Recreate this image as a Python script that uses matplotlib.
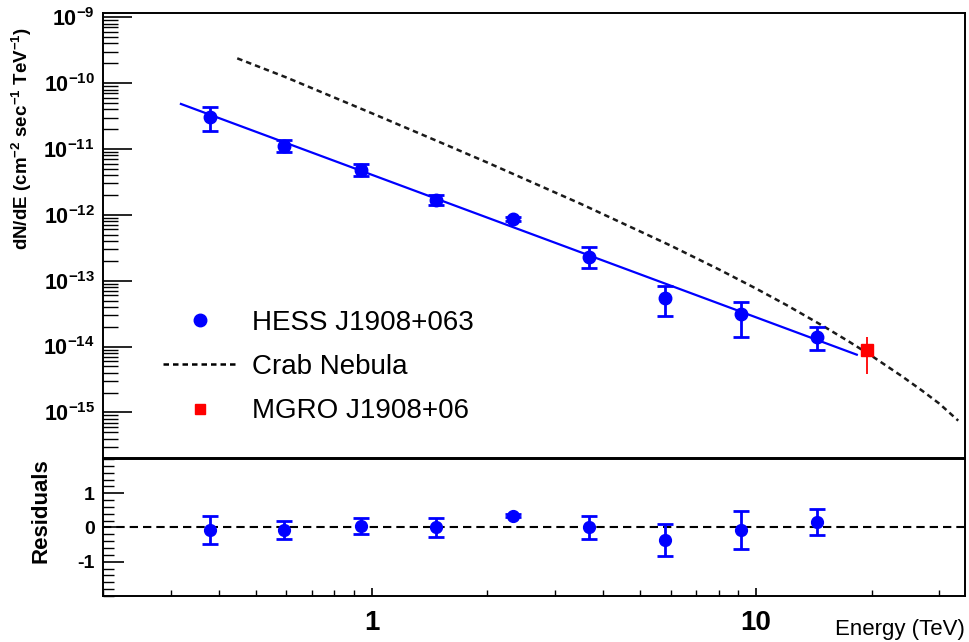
import matplotlib.pyplot as plt
import numpy as np
from matplotlib.lines import Line2D
from matplotlib.ticker import (LogLocator, NullFormatter, FuncFormatter,
                               MultipleLocator, FixedLocator)

plt.rcParams['font.family'] = ['Liberation Sans', 'DejaVu Sans']
plt.rcParams['mathtext.fontset'] = 'custom'
plt.rcParams['mathtext.rm'] = 'Liberation Sans:bold'
plt.rcParams['mathtext.bf'] = 'Liberation Sans:bold'
plt.rcParams['mathtext.it'] = 'Liberation Sans:bold'
plt.rcParams['mathtext.default'] = 'rm'

# HESS J1908+063 spectral points (TeV, cm^-2 s^-1 TeV^-1)
hess_energy = [0.379, 0.593, 0.936, 1.474, 2.33, 3.68, 5.79, 9.14, 14.4]
hess_flux = [3.04e-11, 1.114e-11, 4.82e-12, 1.69e-12, 8.61e-13,
             2.33e-13, 5.44e-14, 3.11e-14, 1.39e-14]
hess_flux_hi = [4.40e-11, 1.37e-11, 5.94e-12, 2.01e-12, 9.2e-13,
                3.30e-13, 8.17e-14, 4.83e-14, 1.95e-14]
hess_flux_lo = [1.90e-11, 9.0e-12, 3.91e-12, 1.42e-12, 8.05e-13,
                1.585e-13, 2.93e-14, 1.42e-14, 8.73e-15]

# power-law fit endpoints
fit_energy = [0.319, 18.3]
fit_flux = [4.83e-11, 7.52e-15]

# Crab Nebula reference spectrum
crab_energy = [0.447, 0.6, 1.0, 1.5, 2.0, 3.5, 6.0, 8.0, 10.0, 12.0, 15.0,
               17.5, 20.0, 24.0, 27.0, 30.0, 33.6]
crab_flux = [2.38e-10, 1.22e-10, 3.50e-11, 1.28e-11, 6.23e-12, 1.47e-12,
             3.41e-13, 1.49e-13, 7.61e-14, 4.28e-14, 2.03e-14, 1.18e-14,
             7.22e-15, 3.53e-15, 2.16e-15, 1.36e-15, 7.5e-16]

# MGRO J1908+06 point
mgro_energy = [19.5]
mgro_flux = [8.94e-15]
mgro_flux_hi = [1.39e-14]
mgro_flux_lo = [3.87e-15]

# residuals of the fit
resid = [-0.07, -0.07, 0.05, 0.0, 0.34, 0.0, -0.37, -0.07, 0.15]
resid_err = [0.40, 0.27, 0.23, 0.27, 0.04, 0.34, 0.47, 0.55, 0.38]

blue = '#0000ff'
red = '#ff0000'

fig = plt.figure(figsize=(9.69, 6.42), dpi=100)
ax = fig.add_axes([0.1063, 0.2866, 0.8896, 0.6931])
axr = fig.add_axes([0.1063, 0.0717, 0.8896, 0.2134])

hf = np.array(hess_flux)
ax.errorbar(hess_energy, hess_flux,
            yerr=[hf - np.array(hess_flux_lo), np.array(hess_flux_hi) - hf],
            fmt='o', color=blue, ms=9, elinewidth=2, capsize=5.5, capthick=2,
            zorder=4)
ax.plot(fit_energy, fit_flux, color=blue, lw=1.6, zorder=3)
ax.plot(crab_energy, crab_flux, color='#1a1a1a', lw=1.8, dashes=(2.2, 1.6), zorder=2)
mf = np.array(mgro_flux)
ax.errorbar(mgro_energy, mgro_flux,
            yerr=[mf - np.array(mgro_flux_lo), np.array(mgro_flux_hi) - mf],
            fmt='s', color=red, ms=8, elinewidth=1.3, capsize=0, zorder=5)

ax.set_xscale('log')
ax.set_yscale('log')
ax.set_xlim(0.2, 35)
ax.set_ylim(2.03e-16, 1.16e-9)

ax.tick_params(axis='x', which='both', bottom=False, top=False, labelbottom=False)
ax.tick_params(axis='y', which='major', direction='in', length=21, width=1.2,
               labelsize=15.5, pad=6, right=False)
ax.tick_params(axis='y', which='minor', direction='in', length=11, width=1.0, right=False)
ax.yaxis.set_major_locator(FixedLocator([1e-15, 1e-14, 1e-13, 1e-12, 1e-11, 1e-10, 1e-9]))
ax.yaxis.set_minor_locator(LogLocator(base=10, subs=np.arange(2, 10), numticks=20))
ax.yaxis.set_minor_formatter(NullFormatter())
ax.yaxis.set_major_formatter(FuncFormatter(lambda v, p: r'$10^{%d}$' % round(np.log10(v))))

handles = [
    Line2D([], [], marker='o', color=blue, ls='none', ms=9),
    Line2D([], [], color='black', lw=1.8, dashes=(2.2, 1.6)),
    Line2D([], [], marker='s', color=red, ls='none', ms=7),
]
labels = ['HESS J1908+063', 'Crab Nebula', 'MGRO J1908+06']
ax.legend(handles, labels, loc='center left', frameon=False, fontsize=20,
          handlelength=2.66, handletextpad=0.55, labelspacing=0.66,
          borderpad=0, borderaxespad=0,
          bbox_to_anchor=(163 / 969, 1 - 367 / 642), bbox_transform=fig.transFigure)

# residuals panel
axr.errorbar(hess_energy, resid, yerr=resid_err, fmt='o', color=blue, ms=8.5,
             elinewidth=2, capsize=5.5, capthick=2, zorder=4)
axr.axhline(0, color='black', lw=1.5, dashes=(4, 2.4), zorder=2)
axr.set_xscale('log')
axr.set_xlim(0.2, 35)
axr.set_ylim(-2, 2)
axr.yaxis.set_major_locator(FixedLocator([-1, 0, 1]))
axr.yaxis.set_minor_locator(MultipleLocator(0.2))
axr.yaxis.set_major_formatter(FuncFormatter(lambda v, p: '%d' % v))
axr.tick_params(axis='y', which='major', direction='in', length=15, width=1.2,
                labelsize=14, pad=6, right=False)
axr.tick_params(axis='y', which='minor', direction='in', length=8, width=1.0, right=False)
axr.xaxis.set_major_locator(FixedLocator([1, 10]))
axr.xaxis.set_minor_locator(LogLocator(base=10, subs=np.arange(2, 10), numticks=10))
axr.xaxis.set_minor_formatter(NullFormatter())
axr.xaxis.set_major_formatter(FuncFormatter(lambda v, p: '%g' % v))
axr.tick_params(axis='x', which='major', direction='in', length=6, width=1.2,
                labelsize=20, pad=10, top=False)
axr.tick_params(axis='x', which='minor', direction='in', length=4, width=1.0, top=False)
for lab in axr.get_xticklabels() + axr.get_yticklabels():
    lab.set_fontweight('bold')

for a in (ax, axr):
    for s in a.spines.values():
        s.set_linewidth(1.4)

fig.text(22 / 969, 1 - 27 / 642, r'dN/dE (cm$^{-2}$ sec$^{-1}$ TeV$^{-1}$)',
         rotation=90, ha='center', va='top', fontsize=13.5, fontweight='bold')
fig.text(41 / 969, 1 - 458 / 642, 'Residuals', rotation=90, ha='center', va='top',
         fontsize=16, fontweight='bold')
fig.text(965 / 969, 1 - 630 / 642, 'Energy (TeV)', ha='right', va='center', fontsize=16)

fig.savefig('out.png', dpi=100)
